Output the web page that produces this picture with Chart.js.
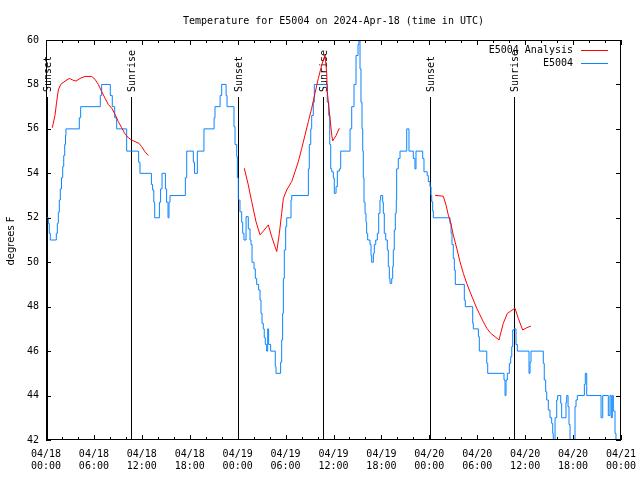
<!DOCTYPE html>
<html>
<head>
<meta charset="utf-8">
<title>Temperature for E5004</title>
<script src="https://cdn.jsdelivr.net/npm/chart.js@4.4.1/dist/chart.umd.min.js"></script>
<style>
  html, body { margin:0; padding:0; background:#fff; }
  canvas { display:block; }
</style>
</head>
<body>
<canvas id="myCanvas" width="640" height="480"></canvas>
<script>
// times are hours since 04/18 00:00 UTC
// station readings, each value holds until the next time (step plot)
var stationHours = [
  0, 0.29, 0.41, 0.54, 1.29, 1.42, 1.54, 1.67, 1.79, 1.94, 2.09, 2.22, 2.34, 2.44, 2.5,
  4.17, 4.34, 6.8, 6.97, 8.05, 8.3, 8.6, 8.85, 10.1, 11.6, 11.77, 13.2, 13.35, 13.5, 13.61,
  14.2, 14.35, 14.53, 14.95, 15.1, 15.28, 15.4, 15.53, 17.45, 17.62, 18.45, 18.6, 18.95, 19.78,
  21.05, 21.16, 21.8, 22.0, 22.55, 22.67,
  23.54, 23.67, 23.88, 23.96, 24.08, 24.29, 24.5, 24.63, 24.79, 25.05, 25.33, 25.55, 25.67, 25.8,
  26.05, 26.21, 26.38, 26.63, 26.8, 26.92, 27.05, 27.21, 27.33, 27.46, 27.63, 27.76, 27.88, 28.13,
  28.71, 28.8, 29.38, 29.51, 29.63, 29.72, 29.84, 30.01, 30.14, 30.68, 30.77, 32.85, 32.97, 33.15,
  33.27, 33.47, 33.6, 35.22, 35.4, 35.53, 35.65, 35.78, 35.98, 36.1, 36.32, 36.48, 36.73, 36.9,
  38.07, 38.28, 38.57, 38.82, 39.07, 39.19, 39.32, 39.44, 39.57, 39.66, 39.73, 39.82, 39.95, 40.07,
  40.15, 40.28, 40.57, 40.7, 40.78, 40.99, 41.11, 41.29, 41.49, 41.66, 41.82, 41.91, 42.16, 42.24,
  42.36, 42.54, 42.74, 42.86, 42.99, 43.08, 43.29, 43.41, 43.49, 43.61, 43.74, 43.86, 43.91, 44.11,
  44.33, 45.17, 45.45, 45.99, 46.2, 46.33, 47.17, 47.33, 47.73, 47.87, 48.08, 48.21, 48.3, 48.42, 48.5,
  50.59, 50.72, 50.84, 51.0, 51.13, 51.25, 52.38, 52.5, 53.43, 53.51, 54.14, 54.26, 55.19, 55.31,
  57.35, 57.48, 57.6, 57.77, 58.02, 58.19, 58.32, 58.44, 58.6, 58.85, 59.02, 60.48, 60.61, 60.73,
  62.27, 62.39, 62.57, 62.7, 62.9, 63.11, 63.32, 63.45, 63.52, 63.74, 63.95, 64.07, 64.45, 64.57,
  65.11, 65.2, 65.37, 65.49, 65.62, 66.24, 66.37, 66.53, 67.41, 67.53, 67.71, 69.5, 69.71, 70.41,
  70.62, 70.78, 70.91, 71.04, 71.25, 71.37
];
var stationTemps = [
  52, 51.75, 51.3, 51, 51.3, 51.75, 52.25, 52.8, 53.3, 53.8, 54.3, 54.8, 55.3, 55.7, 56,
  56.5, 57, 57.5, 58, 57.5, 57, 56.5, 56, 55, 54.5, 54, 53.5, 53.25, 52.7, 52,
  52.7, 53.3, 54, 53.3, 52.7, 52, 52.7, 53, 53.8, 55, 54.5, 54, 55, 56,
  56.5, 57, 57.5, 58, 57.5, 57,
  56.1, 55.3, 54.75, 53.8, 52.8, 52.27, 51.8, 51.3, 51, 52.05, 51.5, 51, 50.8, 50,
  49.7, 49.27, 49, 48.75, 48.3, 47.7, 47.25, 47, 46.6, 46.3, 46, 47, 46.3, 46,
  45.3, 45, 45.5, 46.5, 47.7, 49.27, 50.55, 51.6, 52, 52.8, 53, 54.2, 55.3, 56,
  56.6, 57.2, 58, 57.2, 56.6, 55.3, 54.2, 54.07, 53.78, 53.1, 53.4, 54.1, 54.2, 55,
  56, 57, 58, 59.3, 59.8, 60.3, 58.7, 57.2, 56, 55, 53.8, 52.7, 52.2, 51.8,
  51.3, 51, 50.8, 50.3, 50, 50.4, 50.8, 51, 51.3, 52.2, 52.8, 53, 52.7, 52.2,
  51.3, 51, 50.55, 49.8, 49.27, 49.05, 49.27, 49.8, 50.55, 51.45, 52.2, 52.8, 54.2, 54.67,
  55, 56, 55, 54.67, 54.2, 55, 54.67, 54.07, 53.9, 53.63, 53.4, 53, 52.72, 52.3, 52,
  51.75, 51.3, 50.8, 50.17, 49.65, 49, 48.3, 48, 47.25, 47, 46.65, 46, 45.45, 45,
  44.7, 44, 44.7, 45, 45.45, 45.75, 46.2, 46.95, 47, 46.3, 46, 45, 45.5, 46,
  45.45, 44.7, 44.17, 43.8, 43.35, 43, 42.75, 42.3, 42, 43, 43.8, 44, 43.65, 43,
  43.7, 44, 43.5, 42.7, 42, 43.5, 43.8, 44, 44.5, 45, 44, 43, 44, 43.1,
  44, 43, 44, 43.3, 42.3, 42
];

// analysis curve, null marks a break between runs
var analysisHours = [
  0.79, 1.12, 1.33, 1.54, 1.84, 2.38, 2.92, 3.34, 3.76, 4.26, 4.88, 5.72, 6.14, 6.55, 6.97,
  7.39, 7.8, 8.23, 8.64, 9.05, 9.48, 9.89, 10.31, 10.73, 11.14, 11.65, 11.98, 12.4, 12.81,
  18,
  24.83, 25.33, 25.76, 26.3, 26.8, 27.21, 27.84, 28.26, 28.68, 28.89, 29.22, 29.51, 29.72, 30.14,
  30.77, 31.18, 31.59, 32.02, 32.43, 32.85, 33.27, 33.68, 34.1, 34.52, 34.94, 35.15, 35.22, 35.56,
  35.78, 35.9, 36.32, 36.73,
  42,
  48.71, 49.75, 50.09, 50.38, 50.68, 51.0, 51.43, 51.84, 52.26, 52.68, 53.09, 53.51, 53.93, 54.34,
  54.76, 55.19, 55.69, 56.22, 56.72, 57.26, 57.77, 58.19, 58.73, 59.14, 59.69, 60.19, 60.73
];
var analysisTemps = [
  56.05, 56.6, 57.2, 57.75, 58.0, 58.15, 58.27, 58.2, 58.15, 58.27, 58.36, 58.36, 58.23, 58.0, 57.68,
  57.38, 57.1, 56.93, 56.66, 56.33, 56.05, 55.78, 55.6, 55.5, 55.43, 55.35, 55.2, 54.97, 54.8,
  null,
  54.23, 53.48, 52.72, 51.82, 51.23, 51.4, 51.68, 51.15, 50.7, 50.48, 51.3, 52.2, 52.87, 53.25,
  53.63, 54.07, 54.52, 55.12, 55.72, 56.33, 56.93, 57.6, 58.27, 58.87, 59.33, 58.5, 57.68, 56.48,
  55.72, 55.46, 55.7, 56.03,
  null,
  53.01, 52.97, 52.57, 52.12, 51.75, 51.23, 50.63, 50.02, 49.5, 49.05, 48.67, 48.3, 47.93, 47.63,
  47.32, 47.03, 46.8, 46.65, 46.5, 47.25, 47.7, 47.8, 47.93, 47.47, 46.95, 47.05, 47.13
];

var sunHours = [0.1, 10.7, 24.05, 34.7, 48.05, 58.6];
var sunNames = ['Sunset', 'Sunrise', 'Sunset', 'Sunrise', 'Sunset', 'Sunrise'];

var dayLabels = ['04/18', '04/19', '04/20', '04/21'];
var hourLabels = ['00:00', '06:00', '12:00', '18:00'];

var mono = "'DejaVu Sans Mono', 'Liberation Mono', monospace";
var blue = '#0a84ff';
var red = '#ff0000';

function toPoints(xs, ys) {
  var pts = [];
  for (var i = 0; i < xs.length; i++) pts.push({x: xs[i], y: ys[i]});
  return pts;
}

// border, inward ticks, sun markers, title and key drawn gnuplot style
var gnuplotLook = {
  id: 'gnuplotLook',
  beforeDatasetsDraw: function(chart) {
    var ctx = chart.ctx, a = chart.chartArea, xs = chart.scales.x;
    ctx.save();
    ctx.strokeStyle = '#000';
    ctx.lineWidth = 1;
    ctx.fillStyle = '#000';
    ctx.font = '10px ' + mono;
    for (var i = 0; i < sunHours.length; i++) {
      var px = Math.round(xs.getPixelForValue(sunHours[i])) + 0.5;
      ctx.beginPath();
      ctx.moveTo(px, a.top + 57);
      ctx.lineTo(px, a.bottom);
      ctx.stroke();
      ctx.save();
      ctx.translate(px + 1, a.top + 52);
      ctx.rotate(-Math.PI / 2);
      ctx.textAlign = 'left';
      ctx.textBaseline = 'middle';
      ctx.fillText(sunNames[i], 0, 0);
      ctx.restore();
    }
    ctx.restore();
  },
  afterDatasetsDraw: function(chart) {
    var ctx = chart.ctx, a = chart.chartArea, xs = chart.scales.x, ys = chart.scales.y;
    ctx.save();
    ctx.strokeStyle = '#000';
    ctx.lineWidth = 1;
    ctx.strokeRect(a.left + 0.5, a.top + 0.5, a.right - a.left - 1, a.bottom - a.top - 1);
    ctx.beginPath();
    for (var h = 0; h <= 72; h += 2) {
      var px = Math.round(xs.getPixelForValue(h)) + 0.5;
      var len = (h % 6 === 0) ? 5 : 3;
      ctx.moveTo(px, a.bottom); ctx.lineTo(px, a.bottom - len);
      ctx.moveTo(px, a.top); ctx.lineTo(px, a.top + len);
    }
    for (var t = 42; t <= 60; t += 2) {
      var py = Math.round(ys.getPixelForValue(t)) + 0.5;
      ctx.moveTo(a.left, py); ctx.lineTo(a.left + 5, py);
      ctx.moveTo(a.right, py); ctx.lineTo(a.right - 5, py);
    }
    ctx.stroke();

    // key
    ctx.font = '10px ' + mono;
    ctx.fillStyle = '#000';
    ctx.textAlign = 'right';
    ctx.textBaseline = 'middle';
    var sets = chart.data.datasets;
    for (var k = 0; k < sets.length; k++) {
      var ky = a.top + 10 + k * 13;
      ctx.fillText(sets[k].label, a.right - 48, ky);
      ctx.strokeStyle = sets[k].borderColor;
      ctx.beginPath();
      ctx.moveTo(a.right - 40, ky + 0.5);
      ctx.lineTo(a.right - 13, ky + 0.5);
      ctx.stroke();
    }

    // title
    ctx.textAlign = 'center';
    ctx.fillText('Temperature for E5004 on 2024-Apr-18 (time in UTC)', (a.left + a.right) / 2, 21);

    // y axis label
    ctx.save();
    ctx.font = "10px 'DejaVu Sans', sans-serif";
    ctx.translate(11, (a.top + a.bottom) / 2 + 1);
    ctx.rotate(-Math.PI / 2);
    ctx.fillText('degrees F', 0, 0);
    ctx.restore();
    ctx.restore();
  }
};

Chart.defaults.font.family = mono;
Chart.defaults.font.size = 10;
Chart.defaults.color = '#000';

var chart = new Chart(document.getElementById('myCanvas').getContext('2d'), {
  type: 'line',
  data: {
    datasets: [
      {
        label: 'E5004 Analysis',
        data: toPoints(analysisHours, analysisTemps),
        borderColor: red,
        borderWidth: 1,
        pointRadius: 0,
        fill: false,
        tension: 0,
        spanGaps: false,
        order: 1
      },
      {
        label: 'E5004',
        data: toPoints(stationHours, stationTemps),
        borderColor: blue,
        borderWidth: 1,
        pointRadius: 0,
        fill: false,
        stepped: 'before',
        order: 2
      }
    ]
  },
  options: {
    responsive: false,
    animation: false,
    devicePixelRatio: 1,
    layout: { padding: { top: 40, right: 19, left: 0, bottom: 0 } },
    plugins: { legend: { display: false }, tooltip: { enabled: false } },
    scales: {
      x: {
        type: 'linear',
        min: 0,
        max: 72,
        grid: { display: false, drawTicks: false },
        border: { display: false },
        ticks: {
          stepSize: 6,
          autoSkip: false,
          maxRotation: 0,
          padding: 8,
          callback: function(v) {
            return [dayLabels[Math.floor(v / 24)], hourLabels[(v % 24) / 6]];
          }
        },
        afterFit: function(s) {
          s.height = 40;
          s.paddingLeft = 0;
          s.paddingRight = 0;
        }
      },
      y: {
        min: 42,
        max: 60,
        grid: { display: false, drawTicks: false },
        border: { display: false },
        ticks: { stepSize: 2, padding: 7 },
        afterFit: function(s) {
          s.width = 46;
          s.paddingTop = 0;
          s.paddingBottom = 0;
        }
      }
    }
  },
  plugins: [gnuplotLook]
});
</script>
</body>
</html>
